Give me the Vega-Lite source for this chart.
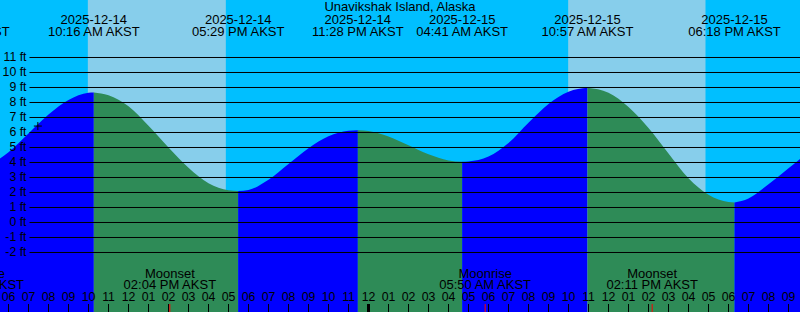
{
  "$schema": "https://vega.github.io/schema/vega-lite/v6.json",
  "width": 800,
  "height": 312,
  "autosize": {"type": "none"},
  "padding": 0,
  "background": "#00BFFF",
  "config": {"view": {"stroke": null, "fill": "#00BFFF"}, "font": "Liberation Sans"},
  "datasets": {
    "sun": [
      {"rise": "2025-12-14T09:58", "set": "2025-12-14T16:52"},
      {"rise": "2025-12-15T09:59", "set": "2025-12-15T16:51"}
    ],
    "tide": [
      {"t": "2025-12-14T05:00", "ft": 3.75, "seg": "a", "dir": "rising"},
      {"t": "2025-12-14T06:00", "ft": 4.69, "seg": "a", "dir": "rising"},
      {"t": "2025-12-14T07:00", "ft": 5.94, "seg": "a", "dir": "rising"},
      {"t": "2025-12-14T08:00", "ft": 7.2, "seg": "a", "dir": "rising"},
      {"t": "2025-12-14T09:00", "ft": 8.17, "seg": "a", "dir": "rising"},
      {"t": "2025-12-14T10:00", "ft": 8.65, "seg": "a", "dir": "rising"},
      {"t": "2025-12-14T10:16", "ft": 8.67, "seg": "a", "dir": "rising"},
      {"t": "2025-12-14T10:16", "ft": 8.67, "seg": "b", "dir": "falling"},
      {"t": "2025-12-14T11:00", "ft": 8.48, "seg": "b", "dir": "falling"},
      {"t": "2025-12-14T12:00", "ft": 7.75, "seg": "b", "dir": "falling"},
      {"t": "2025-12-14T13:00", "ft": 6.45, "seg": "b", "dir": "falling"},
      {"t": "2025-12-14T14:00", "ft": 5.0, "seg": "b", "dir": "falling"},
      {"t": "2025-12-14T15:00", "ft": 3.65, "seg": "b", "dir": "falling"},
      {"t": "2025-12-14T16:00", "ft": 2.62, "seg": "b", "dir": "falling"},
      {"t": "2025-12-14T17:00", "ft": 2.15, "seg": "b", "dir": "falling"},
      {"t": "2025-12-14T17:29", "ft": 2.1, "seg": "b", "dir": "falling"},
      {"t": "2025-12-14T17:29", "ft": 2.1, "seg": "c", "dir": "rising"},
      {"t": "2025-12-14T18:00", "ft": 2.17, "seg": "c", "dir": "rising"},
      {"t": "2025-12-14T19:00", "ft": 2.85, "seg": "c", "dir": "rising"},
      {"t": "2025-12-14T20:00", "ft": 3.9, "seg": "c", "dir": "rising"},
      {"t": "2025-12-14T21:00", "ft": 4.95, "seg": "c", "dir": "rising"},
      {"t": "2025-12-14T22:00", "ft": 5.75, "seg": "c", "dir": "rising"},
      {"t": "2025-12-14T23:00", "ft": 6.12, "seg": "c", "dir": "rising"},
      {"t": "2025-12-14T23:28", "ft": 6.15, "seg": "c", "dir": "rising"},
      {"t": "2025-12-14T23:28", "ft": 6.15, "seg": "d", "dir": "falling"},
      {"t": "2025-12-15T00:00", "ft": 6.1, "seg": "d", "dir": "falling"},
      {"t": "2025-12-15T01:00", "ft": 5.73, "seg": "d", "dir": "falling"},
      {"t": "2025-12-15T02:00", "ft": 5.15, "seg": "d", "dir": "falling"},
      {"t": "2025-12-15T03:00", "ft": 4.55, "seg": "d", "dir": "falling"},
      {"t": "2025-12-15T04:00", "ft": 4.14, "seg": "d", "dir": "falling"},
      {"t": "2025-12-15T04:41", "ft": 4.05, "seg": "d", "dir": "falling"},
      {"t": "2025-12-15T04:41", "ft": 4.05, "seg": "e", "dir": "rising"},
      {"t": "2025-12-15T05:00", "ft": 4.07, "seg": "e", "dir": "rising"},
      {"t": "2025-12-15T06:00", "ft": 4.4, "seg": "e", "dir": "rising"},
      {"t": "2025-12-15T07:00", "ft": 5.3, "seg": "e", "dir": "rising"},
      {"t": "2025-12-15T08:00", "ft": 6.65, "seg": "e", "dir": "rising"},
      {"t": "2025-12-15T09:00", "ft": 7.9, "seg": "e", "dir": "rising"},
      {"t": "2025-12-15T10:00", "ft": 8.72, "seg": "e", "dir": "rising"},
      {"t": "2025-12-15T10:57", "ft": 8.98, "seg": "e", "dir": "rising"},
      {"t": "2025-12-15T10:57", "ft": 8.98, "seg": "f", "dir": "falling"},
      {"t": "2025-12-15T12:00", "ft": 8.65, "seg": "f", "dir": "falling"},
      {"t": "2025-12-15T13:00", "ft": 7.7, "seg": "f", "dir": "falling"},
      {"t": "2025-12-15T14:00", "ft": 6.3, "seg": "f", "dir": "falling"},
      {"t": "2025-12-15T15:00", "ft": 4.6, "seg": "f", "dir": "falling"},
      {"t": "2025-12-15T16:00", "ft": 2.95, "seg": "f", "dir": "falling"},
      {"t": "2025-12-15T17:00", "ft": 1.85, "seg": "f", "dir": "falling"},
      {"t": "2025-12-15T18:00", "ft": 1.37, "seg": "f", "dir": "falling"},
      {"t": "2025-12-15T18:18", "ft": 1.33, "seg": "f", "dir": "falling"},
      {"t": "2025-12-15T18:18", "ft": 1.33, "seg": "g", "dir": "rising"},
      {"t": "2025-12-15T19:00", "ft": 1.6, "seg": "g", "dir": "rising"},
      {"t": "2025-12-15T20:00", "ft": 2.55, "seg": "g", "dir": "rising"},
      {"t": "2025-12-15T21:00", "ft": 3.62, "seg": "g", "dir": "rising"},
      {"t": "2025-12-15T22:00", "ft": 4.7, "seg": "g", "dir": "rising"}
    ],
    "levels": [
      {"ft": -2, "label": "-2 ft"}, {"ft": -1, "label": "-1 ft"}, {"ft": 0, "label": "0 ft"},
      {"ft": 1, "label": "1 ft"}, {"ft": 2, "label": "2 ft"}, {"ft": 3, "label": "3 ft"},
      {"ft": 4, "label": "4 ft"}, {"ft": 5, "label": "5 ft"}, {"ft": 6, "label": "6 ft"},
      {"ft": 7, "label": "7 ft"}, {"ft": 8, "label": "8 ft"}, {"ft": 9, "label": "9 ft"},
      {"ft": 10, "label": "10 ft"}, {"ft": 11, "label": "11 ft"}
    ],
    "hours": [
      {"t": "2025-12-14T06:00"}, {"t": "2025-12-14T07:00"}, {"t": "2025-12-14T08:00"}, {"t": "2025-12-14T09:00"},
      {"t": "2025-12-14T10:00"}, {"t": "2025-12-14T11:00"}, {"t": "2025-12-14T12:00"}, {"t": "2025-12-14T13:00"},
      {"t": "2025-12-14T14:00"}, {"t": "2025-12-14T15:00"}, {"t": "2025-12-14T16:00"}, {"t": "2025-12-14T17:00"},
      {"t": "2025-12-14T18:00"}, {"t": "2025-12-14T19:00"}, {"t": "2025-12-14T20:00"}, {"t": "2025-12-14T21:00"},
      {"t": "2025-12-14T22:00"}, {"t": "2025-12-14T23:00"}, {"t": "2025-12-15T00:00"}, {"t": "2025-12-15T01:00"},
      {"t": "2025-12-15T02:00"}, {"t": "2025-12-15T03:00"}, {"t": "2025-12-15T04:00"}, {"t": "2025-12-15T05:00"},
      {"t": "2025-12-15T06:00"}, {"t": "2025-12-15T07:00"}, {"t": "2025-12-15T08:00"}, {"t": "2025-12-15T09:00"},
      {"t": "2025-12-15T10:00"}, {"t": "2025-12-15T11:00"}, {"t": "2025-12-15T12:00"}, {"t": "2025-12-15T13:00"},
      {"t": "2025-12-15T14:00"}, {"t": "2025-12-15T15:00"}, {"t": "2025-12-15T16:00"}, {"t": "2025-12-15T17:00"},
      {"t": "2025-12-15T18:00"}, {"t": "2025-12-15T19:00"}, {"t": "2025-12-15T20:00"}, {"t": "2025-12-15T21:00"}
    ],
    "extremes": [
      {"t": "2025-12-14T03:46", "label": "2025-12-14\n03:46 AM AKST"},
      {"t": "2025-12-14T10:16", "label": "2025-12-14\n10:16 AM AKST"},
      {"t": "2025-12-14T17:29", "label": "2025-12-14\n05:29 PM AKST"},
      {"t": "2025-12-14T23:28", "label": "2025-12-14\n11:28 PM AKST"},
      {"t": "2025-12-15T04:41", "label": "2025-12-15\n04:41 AM AKST"},
      {"t": "2025-12-15T10:57", "label": "2025-12-15\n10:57 AM AKST"},
      {"t": "2025-12-15T18:18", "label": "2025-12-15\n06:18 PM AKST"}
    ],
    "moon": [
      {"t": "2025-12-14T04:29", "label": "Moonrise\n04:29 AM AKST"},
      {"t": "2025-12-14T14:04", "label": "Moonset\n02:04 PM AKST"},
      {"t": "2025-12-15T05:50", "label": "Moonrise\n05:50 AM AKST"},
      {"t": "2025-12-15T14:11", "label": "Moonset\n02:11 PM AKST"}
    ],
    "midnight": [
      {"t": "2025-12-15T00:00"}
    ],
    "mark": [
      {"t": "2025-12-14T07:28", "ft": 6.43}
    ],
    "title": [
      {"t": "2025-12-15T01:34:30", "label": "Unavikshak Island, Alaska"}
    ]
  },
  "layer": [
    {
      "data": {"name": "sun"},
      "mark": {"type": "rect", "color": "#87CEEB"},
      "encoding": {
        "x": {"field": "rise", "type": "temporal", "scale": {"domain": [{"year": 2025, "month": 12, "date": 14, "hours": 5, "minutes": 34, "seconds": 30}, {"year": 2025, "month": 12, "date": 15, "hours": 21, "minutes": 34, "seconds": 30}], "nice": false}, "axis": null},
        "x2": {"field": "set"}
      }
    },
    {
      "data": {"name": "tide"},
      "mark": {"type": "area", "interpolate": "monotone", "clip": true},
      "encoding": {
        "x": {"field": "t", "type": "temporal", "scale": {"domain": [{"year": 2025, "month": 12, "date": 14, "hours": 5, "minutes": 34, "seconds": 30}, {"year": 2025, "month": 12, "date": 15, "hours": 21, "minutes": 34, "seconds": 30}], "nice": false}, "axis": null},
        "y": {"field": "ft", "type": "quantitative", "scale": {"domain": [-5.9667, 14.8333], "nice": false, "zero": false}, "axis": null},
        "y2": {"datum": -5.9667},
        "color": {"field": "dir", "type": "nominal", "scale": {"domain": ["rising", "falling"], "range": ["#0000FF", "#2E8B57"]}, "legend": null},
        "detail": {"field": "seg"}
      }
    },
    {
      "data": {"name": "levels"},
      "mark": {"type": "rule", "color": "black", "strokeWidth": 1},
      "encoding": {
        "x": {"datum": {"year": 2025, "month": 12, "date": 14, "hours": 7, "minutes": 3}, "type": "temporal", "scale": {"domain": [{"year": 2025, "month": 12, "date": 14, "hours": 5, "minutes": 34, "seconds": 30}, {"year": 2025, "month": 12, "date": 15, "hours": 21, "minutes": 34, "seconds": 30}], "nice": false}, "axis": null},
        "x2": {"datum": {"year": 2025, "month": 12, "date": 15, "hours": 21, "minutes": 34, "seconds": 30}},
        "y": {"field": "ft", "type": "quantitative", "scale": {"domain": [-5.9667, 14.8333], "nice": false, "zero": false}, "axis": null}
      }
    },
    {
      "data": {"name": "levels"},
      "mark": {"type": "text", "fontSize": 12.3, "font": "Liberation Sans", "align": "right", "baseline": "middle", "dx": -3, "color": "black"},
      "encoding": {
        "x": {"datum": {"year": 2025, "month": 12, "date": 14, "hours": 7, "minutes": 3}, "type": "temporal", "scale": {"domain": [{"year": 2025, "month": 12, "date": 14, "hours": 5, "minutes": 34, "seconds": 30}, {"year": 2025, "month": 12, "date": 15, "hours": 21, "minutes": 34, "seconds": 30}], "nice": false}, "axis": null},
        "y": {"field": "ft", "type": "quantitative", "scale": {"domain": [-5.9667, 14.8333], "nice": false, "zero": false}, "axis": null},
        "text": {"field": "label"}
      }
    },
    {
      "data": {"name": "hours"},
      "mark": {"type": "rule", "color": "black", "strokeWidth": 1},
      "encoding": {
        "x": {"field": "t", "type": "temporal", "scale": {"domain": [{"year": 2025, "month": 12, "date": 14, "hours": 5, "minutes": 34, "seconds": 30}, {"year": 2025, "month": 12, "date": 15, "hours": 21, "minutes": 34, "seconds": 30}], "nice": false}, "axis": null},
        "y": {"datum": -5.433, "type": "quantitative", "scale": {"domain": [-5.9667, 14.8333], "nice": false, "zero": false}, "axis": null},
        "y2": {"datum": -5.9667}
      }
    },
    {
      "data": {"name": "hours"},
      "mark": {"type": "text", "fontSize": 12.3, "font": "Liberation Sans", "align": "center", "baseline": "alphabetic", "color": "black"},
      "encoding": {
        "x": {"field": "t", "type": "temporal", "scale": {"domain": [{"year": 2025, "month": 12, "date": 14, "hours": 5, "minutes": 34, "seconds": 30}, {"year": 2025, "month": 12, "date": 15, "hours": 21, "minutes": 34, "seconds": 30}], "nice": false}, "axis": null},
        "y": {"datum": -5.253, "type": "quantitative", "scale": {"domain": [-5.9667, 14.8333], "nice": false, "zero": false}, "axis": null},
        "text": {"field": "t", "type": "temporal", "format": "%I"}
      }
    },
    {
      "data": {"name": "midnight"},
      "mark": {"type": "rule", "color": "black", "strokeWidth": 3},
      "encoding": {
        "x": {"field": "t", "type": "temporal", "scale": {"domain": [{"year": 2025, "month": 12, "date": 14, "hours": 5, "minutes": 34, "seconds": 30}, {"year": 2025, "month": 12, "date": 15, "hours": 21, "minutes": 34, "seconds": 30}], "nice": false}, "axis": null},
        "y": {"datum": -5.433, "type": "quantitative", "scale": {"domain": [-5.9667, 14.8333], "nice": false, "zero": false}, "axis": null},
        "y2": {"datum": -5.9667}
      }
    },
    {
      "data": {"name": "moon"},
      "mark": {"type": "rule", "color": "#FF0000", "strokeWidth": 1},
      "encoding": {
        "x": {"field": "t", "type": "temporal", "scale": {"domain": [{"year": 2025, "month": 12, "date": 14, "hours": 5, "minutes": 34, "seconds": 30}, {"year": 2025, "month": 12, "date": 15, "hours": 21, "minutes": 34, "seconds": 30}], "nice": false}, "axis": null},
        "y": {"datum": -5.433, "type": "quantitative", "scale": {"domain": [-5.9667, 14.8333], "nice": false, "zero": false}, "axis": null},
        "y2": {"datum": -5.9667}
      }
    },
    {
      "data": {"name": "extremes"},
      "mark": {"type": "text", "lineBreak": "\n", "fontSize": 13, "font": "Liberation Sans", "align": "center", "baseline": "alphabetic", "lineHeight": 11.7, "color": "black"},
      "encoding": {
        "x": {"field": "t", "type": "temporal", "scale": {"domain": [{"year": 2025, "month": 12, "date": 14, "hours": 5, "minutes": 34, "seconds": 30}, {"year": 2025, "month": 12, "date": 15, "hours": 21, "minutes": 34, "seconds": 30}], "nice": false}, "axis": null},
        "y": {"datum": 13.233, "type": "quantitative", "scale": {"domain": [-5.9667, 14.8333], "nice": false, "zero": false}, "axis": null},
        "text": {"field": "label"}
      }
    },
    {
      "data": {"name": "moon"},
      "mark": {"type": "text", "lineBreak": "\n", "fontSize": 13, "font": "Liberation Sans", "align": "center", "baseline": "alphabetic", "lineHeight": 11, "color": "black"},
      "encoding": {
        "x": {"field": "t", "type": "temporal", "scale": {"domain": [{"year": 2025, "month": 12, "date": 14, "hours": 5, "minutes": 34, "seconds": 30}, {"year": 2025, "month": 12, "date": 15, "hours": 21, "minutes": 34, "seconds": 30}], "nice": false}, "axis": null},
        "y": {"datum": -3.72, "type": "quantitative", "scale": {"domain": [-5.9667, 14.8333], "nice": false, "zero": false}, "axis": null},
        "text": {"field": "label"}
      }
    },
    {
      "data": {"name": "title"},
      "mark": {"type": "text", "fontSize": 13, "font": "Liberation Sans", "align": "center", "baseline": "alphabetic", "color": "black"},
      "encoding": {
        "x": {"field": "t", "type": "temporal", "scale": {"domain": [{"year": 2025, "month": 12, "date": 14, "hours": 5, "minutes": 34, "seconds": 30}, {"year": 2025, "month": 12, "date": 15, "hours": 21, "minutes": 34, "seconds": 30}], "nice": false}, "axis": null},
        "y": {"datum": 14.1, "type": "quantitative", "scale": {"domain": [-5.9667, 14.8333], "nice": false, "zero": false}, "axis": null},
        "text": {"field": "label"}
      }
    },
    {
      "data": {"name": "mark"},
      "mark": {"type": "point", "shape": "M-1,0L1,0M0,-1L0,1", "filled": false, "stroke": "black", "strokeWidth": 1, "size": 64, "opacity": 1},
      "encoding": {
        "x": {"field": "t", "type": "temporal", "scale": {"domain": [{"year": 2025, "month": 12, "date": 14, "hours": 5, "minutes": 34, "seconds": 30}, {"year": 2025, "month": 12, "date": 15, "hours": 21, "minutes": 34, "seconds": 30}], "nice": false}, "axis": null},
        "y": {"field": "ft", "type": "quantitative", "scale": {"domain": [-5.9667, 14.8333], "nice": false, "zero": false}, "axis": null}
      }
    }
  ]
}
